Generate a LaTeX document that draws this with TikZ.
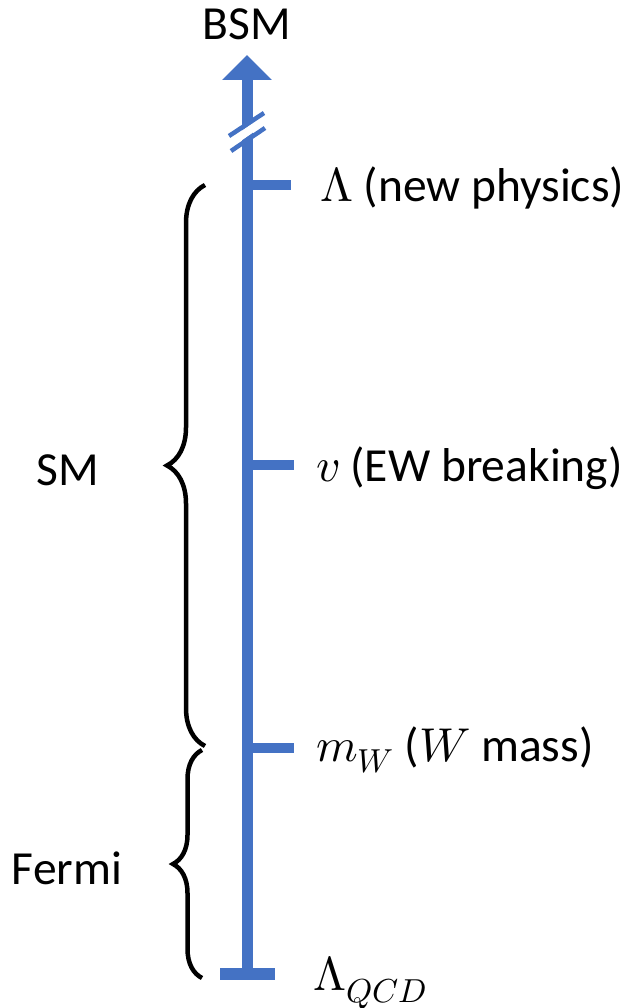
\documentclass[tikz,border=0pt]{standalone}
\usepackage{fontspec}
\usepackage{unicode-math}
\setmainfont{Carlito}
\usetikzlibrary{arrows.meta,decorations.pathreplacing}
\definecolor{scaleblue}{HTML}{4472C4}

\begin{document}
\begin{tikzpicture}[x=1pt,y=-1pt,
  font=\fontsize{47.5}{57}\selectfont,
  axisline/.style={draw=scaleblue,line width=11pt},
  tickmark/.style={draw=scaleblue,line width=10pt},
  lbl/.style={anchor=west,inner sep=0pt},
  grp/.style={decorate,decoration={brace,amplitude=#1},line width=4.5pt},
  >={Triangle[length=25pt,width=48pt]}]
\useasboundingbox (0,0) rectangle (635,1008);

% energy axis
\coordinate (bot) at (247,974);
\coordinate (top) at (247,55);
\draw[axisline,->] (bot) -- (top);
\node (bsm) at (247,24) {BSM};

% break in the axis
\coordinate (brA) at (231,143); \coordinate (brB) at (264,120);
\coordinate (brC) at (229,136); \coordinate (brD) at (264,113);
\coordinate (brE) at (231,151); \coordinate (brF) at (265,128);
\draw[white,line width=8pt] (brA) -- (brB);
\draw[scaleblue,line width=4.5pt] (brC) -- (brD);
\draw[scaleblue,line width=4.5pt] (brE) -- (brF);

% scales
\coordinate (lamA) at (247,185); \coordinate (lamB) at (291,185);
\coordinate (vevA) at (247,465); \coordinate (vevB) at (294,465);
\coordinate (mwA)  at (247,748); \coordinate (mwB)  at (294,748);
\coordinate (qcdA) at (220,974); \coordinate (qcdB) at (275,974);
\draw[tickmark] (lamA) -- (lamB);
\draw[tickmark] (vevA) -- (vevB);
\draw[tickmark] (mwA) -- (mwB);
\draw[tickmark,line width=12pt] (qcdA) -- (qcdB);

\node[lbl] (lam) at (320,188) {$\Lambda$ (new physics)};
\node[lbl] (vev) at (316,468) {$v$ (EW breaking)};
\node[lbl] (mw)  at (316,750) {$m_W$ ($W$ mass)};
\node[lbl] (qcd) at (313,983) {$\Lambda_{QCD}$};

% theory ranges
\coordinate (smB) at (205,746); \coordinate (smT) at (205,185);
\coordinate (feB) at (202,978); \coordinate (feT) at (202,750);
\draw[grp=38pt] (smB) -- (smT);
\draw[grp=29pt] (feB) -- (feT);
\node (sm)    at (68,470) {SM};
\node (fermi) at (67,868) {Fermi};
\end{tikzpicture}
\end{document}
